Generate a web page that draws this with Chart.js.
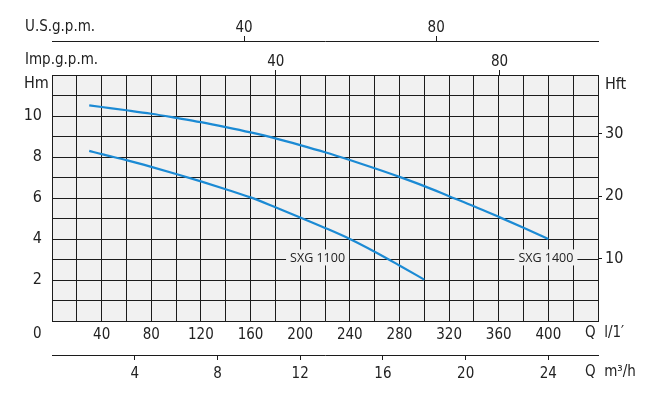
<!DOCTYPE html>
<html>
<head>
<meta charset="utf-8">
<script src="https://cdn.jsdelivr.net/npm/chart.js@4/dist/chart.umd.min.js"></script>
<style>
  html, body { margin: 0; padding: 0; background: #fff; }
  #wrap { width: 663px; height: 394px; }
</style>
</head>
<body>
<div id="wrap"><canvas id="pump_chart" width="663" height="394"></canvas></div>
<script>
// curve SXG 1400 (flow l/min, head m)
const flow1400 = [30, 40, 60, 80, 100, 120, 140, 160, 180, 200, 220, 240, 260, 280, 300, 320, 340, 360, 380, 400];
const head1400 = [10.52, 10.44, 10.28, 10.11, 9.91, 9.7, 9.46, 9.2, 8.91, 8.58, 8.23, 7.85, 7.45, 7.03, 6.58, 6.09, 5.6, 5.08, 4.55, 4.0];
// curve SXG 1100
const flow1100 = [30, 40, 60, 80, 100, 120, 140, 160, 180, 200, 220, 240, 260, 280, 300];
const head1100 = [8.3, 8.14, 7.85, 7.52, 7.17, 6.81, 6.43, 6.03, 5.55, 5.05, 4.54, 4.0, 3.38, 2.71, 2.02];

const curveNames = ["SXG 1100", "SXG 1400"];
const curveLabelAt = [[214, 3.1], [398, 3.1]];

const lminTicks = [40, 80, 120, 160, 200, 240, 280, 320, 360, 400];
const m3hTicks = [4, 8, 12, 16, 20, 24];
const impTicks = [40, 80];
const usTicks = [40, 80];
const hmTicks = [2, 4, 6, 8, 10];
const hftTicks = [10, 20, 30];

const lminMax = 440;
const hmMax = 12;

const ink = '#1c1c1c';
const blue = '#1b8ad4';
const tickFont = { family: 'DejaVu Sans Condensed', size: 15 };

function toPoints(xs, ys) {
  return xs.map((x, i) => ({ x: x, y: ys[i] }));
}
function fixWidth(w) { return s => { s.width = w; }; }
function fixHeight(h) { return s => { s.height = h; }; }
function onlyTicks(list) { return s => { s.ticks = list.map(v => ({ value: v })); }; }

const paperPlugin = {
  id: 'paper',
  beforeDraw(chart) {
    const a = chart.chartArea, ctx = chart.ctx;
    ctx.save();
    ctx.fillStyle = '#f1f1f1';
    ctx.fillRect(a.left, a.top, a.right - a.left, a.bottom - a.top);
    ctx.restore();
  },
  afterDraw(chart) {
    const ctx = chart.ctx;
    const sx = chart.scales.x, sy = chart.scales.y;
    ctx.save();
    // curve names on a patch of background
    ctx.font = '12.5px "Open Sans"';
    ctx.textBaseline = 'middle';
    ctx.textAlign = 'center';
    curveNames.forEach((name, i) => {
      const px = sx.getPixelForValue(curveLabelAt[i][0]);
      const py = sy.getPixelForValue(curveLabelAt[i][1]);
      const w = ctx.measureText(name).width + 8;
      ctx.fillStyle = '#f1f1f1';
      ctx.fillRect(px - w / 2, py - 8, w, 16);
      ctx.fillStyle = '#222';
      ctx.fillText(name, px, py + 1);
    });
    // unit captions
    ctx.fillStyle = '#222';
    ctx.textAlign = 'left';
    ctx.font = '15px "DejaVu Sans Condensed"';
    ctx.fillText('U.S.g.p.m.', 25, 27);
    ctx.fillText('Imp.g.p.m.', 25, 60);
    ctx.fillText('0', 33, 334);
    ctx.fillText('Q  l/1\u2032', 585, 333);
    ctx.fillText('Q  m\u00b3/h', 585, 372);
    ctx.font = '16px "DejaVu Sans Condensed"';
    ctx.fillText('Hm', 24, 84);
    ctx.fillText('Hft', 605, 85);
    ctx.restore();
  }
};

const ctx = document.getElementById('pump_chart');
const pumpChart = new Chart(ctx, {
  type: 'line',
  data: {
    datasets: [{
      label: curveNames[0],
      data: toPoints(flow1100, head1100),
      borderColor: blue,
      borderWidth: 2.2,
      pointRadius: 0,
      cubicInterpolationMode: 'monotone',
      xAxisID: 'x',
      yAxisID: 'y'
    }, {
      label: curveNames[1],
      data: toPoints(flow1400, head1400),
      borderColor: blue,
      borderWidth: 2.2,
      pointRadius: 0,
      cubicInterpolationMode: 'monotone',
      xAxisID: 'x',
      yAxisID: 'y'
    }]
  },
  options: {
    responsive: false,
    animation: false,
    devicePixelRatio: 1,
    layout: { padding: 0 },
    plugins: { legend: { display: false }, tooltip: { enabled: false } },
    scales: {
      x: {
        type: 'linear', position: 'bottom', weight: 1,
        min: 0, max: lminMax,
        afterFit: fixHeight(34),
        border: { display: true, color: ink, width: 1 },
        grid: { color: ink, lineWidth: 1, drawTicks: false },
        ticks: {
          stepSize: 20, autoSkip: false, maxRotation: 0, padding: 5,
          font: tickFont, color: '#222',
          callback: v => lminTicks.includes(v) ? String(v) : ''
        }
      },
      m3h: {
        type: 'linear', position: 'bottom', weight: 2,
        min: 0, max: lminMax * 60 / 1000,
        afterFit: fixHeight(39),
        afterBuildTicks: onlyTicks(m3hTicks),
        border: { display: true, color: ink, width: 1 },
        grid: { color: ink, drawOnChartArea: false, drawTicks: true, tickLength: 5 },
        ticks: { autoSkip: false, maxRotation: 0, padding: 5, font: tickFont, color: '#222' }
      },
      imp: {
        type: 'linear', position: 'top', weight: 1,
        min: 0, max: 97.6,
        afterFit: fixHeight(34),
        afterBuildTicks: onlyTicks(impTicks),
        border: { display: true, color: ink, width: 1 },
        grid: { color: ink, drawOnChartArea: false, drawTicks: true, tickLength: 5 },
        ticks: { autoSkip: false, maxRotation: 0, padding: -1, font: tickFont, color: '#222' }
      },
      us: {
        type: 'linear', position: 'top', weight: 2,
        min: 0, max: 113.7,
        afterFit: fixHeight(41),
        afterBuildTicks: onlyTicks(usTicks),
        border: { display: true, color: ink, width: 1 },
        grid: { color: ink, drawOnChartArea: false, drawTicks: true, tickLength: 5 },
        ticks: { autoSkip: false, maxRotation: 0, padding: -1, font: tickFont, color: '#222' }
      },
      y: {
        type: 'linear', position: 'left',
        min: 0, max: hmMax,
        afterFit: fixWidth(52),
        border: { display: true, color: ink, width: 1 },
        grid: { color: ink, lineWidth: 1, drawTicks: false },
        ticks: {
          stepSize: 1, autoSkip: false, padding: 10,
          font: { family: 'DejaVu Sans Condensed', size: 16 }, color: '#222',
          callback: v => hmTicks.includes(v) ? String(v) : ''
        }
      },
      hft: {
        type: 'linear', position: 'right',
        min: 0, max: hmMax * 3.28084,
        afterFit: fixWidth(65),
        afterBuildTicks: onlyTicks(hftTicks),
        border: { display: true, color: ink, width: 1 },
        grid: { color: ink, drawOnChartArea: false, drawTicks: true, tickLength: 4 },
        ticks: { autoSkip: false, padding: 3, font: { family: 'DejaVu Sans Condensed', size: 16 }, color: '#222' }
      }
    }
  },
  plugins: [paperPlugin]
});
</script>
</body>
</html>
